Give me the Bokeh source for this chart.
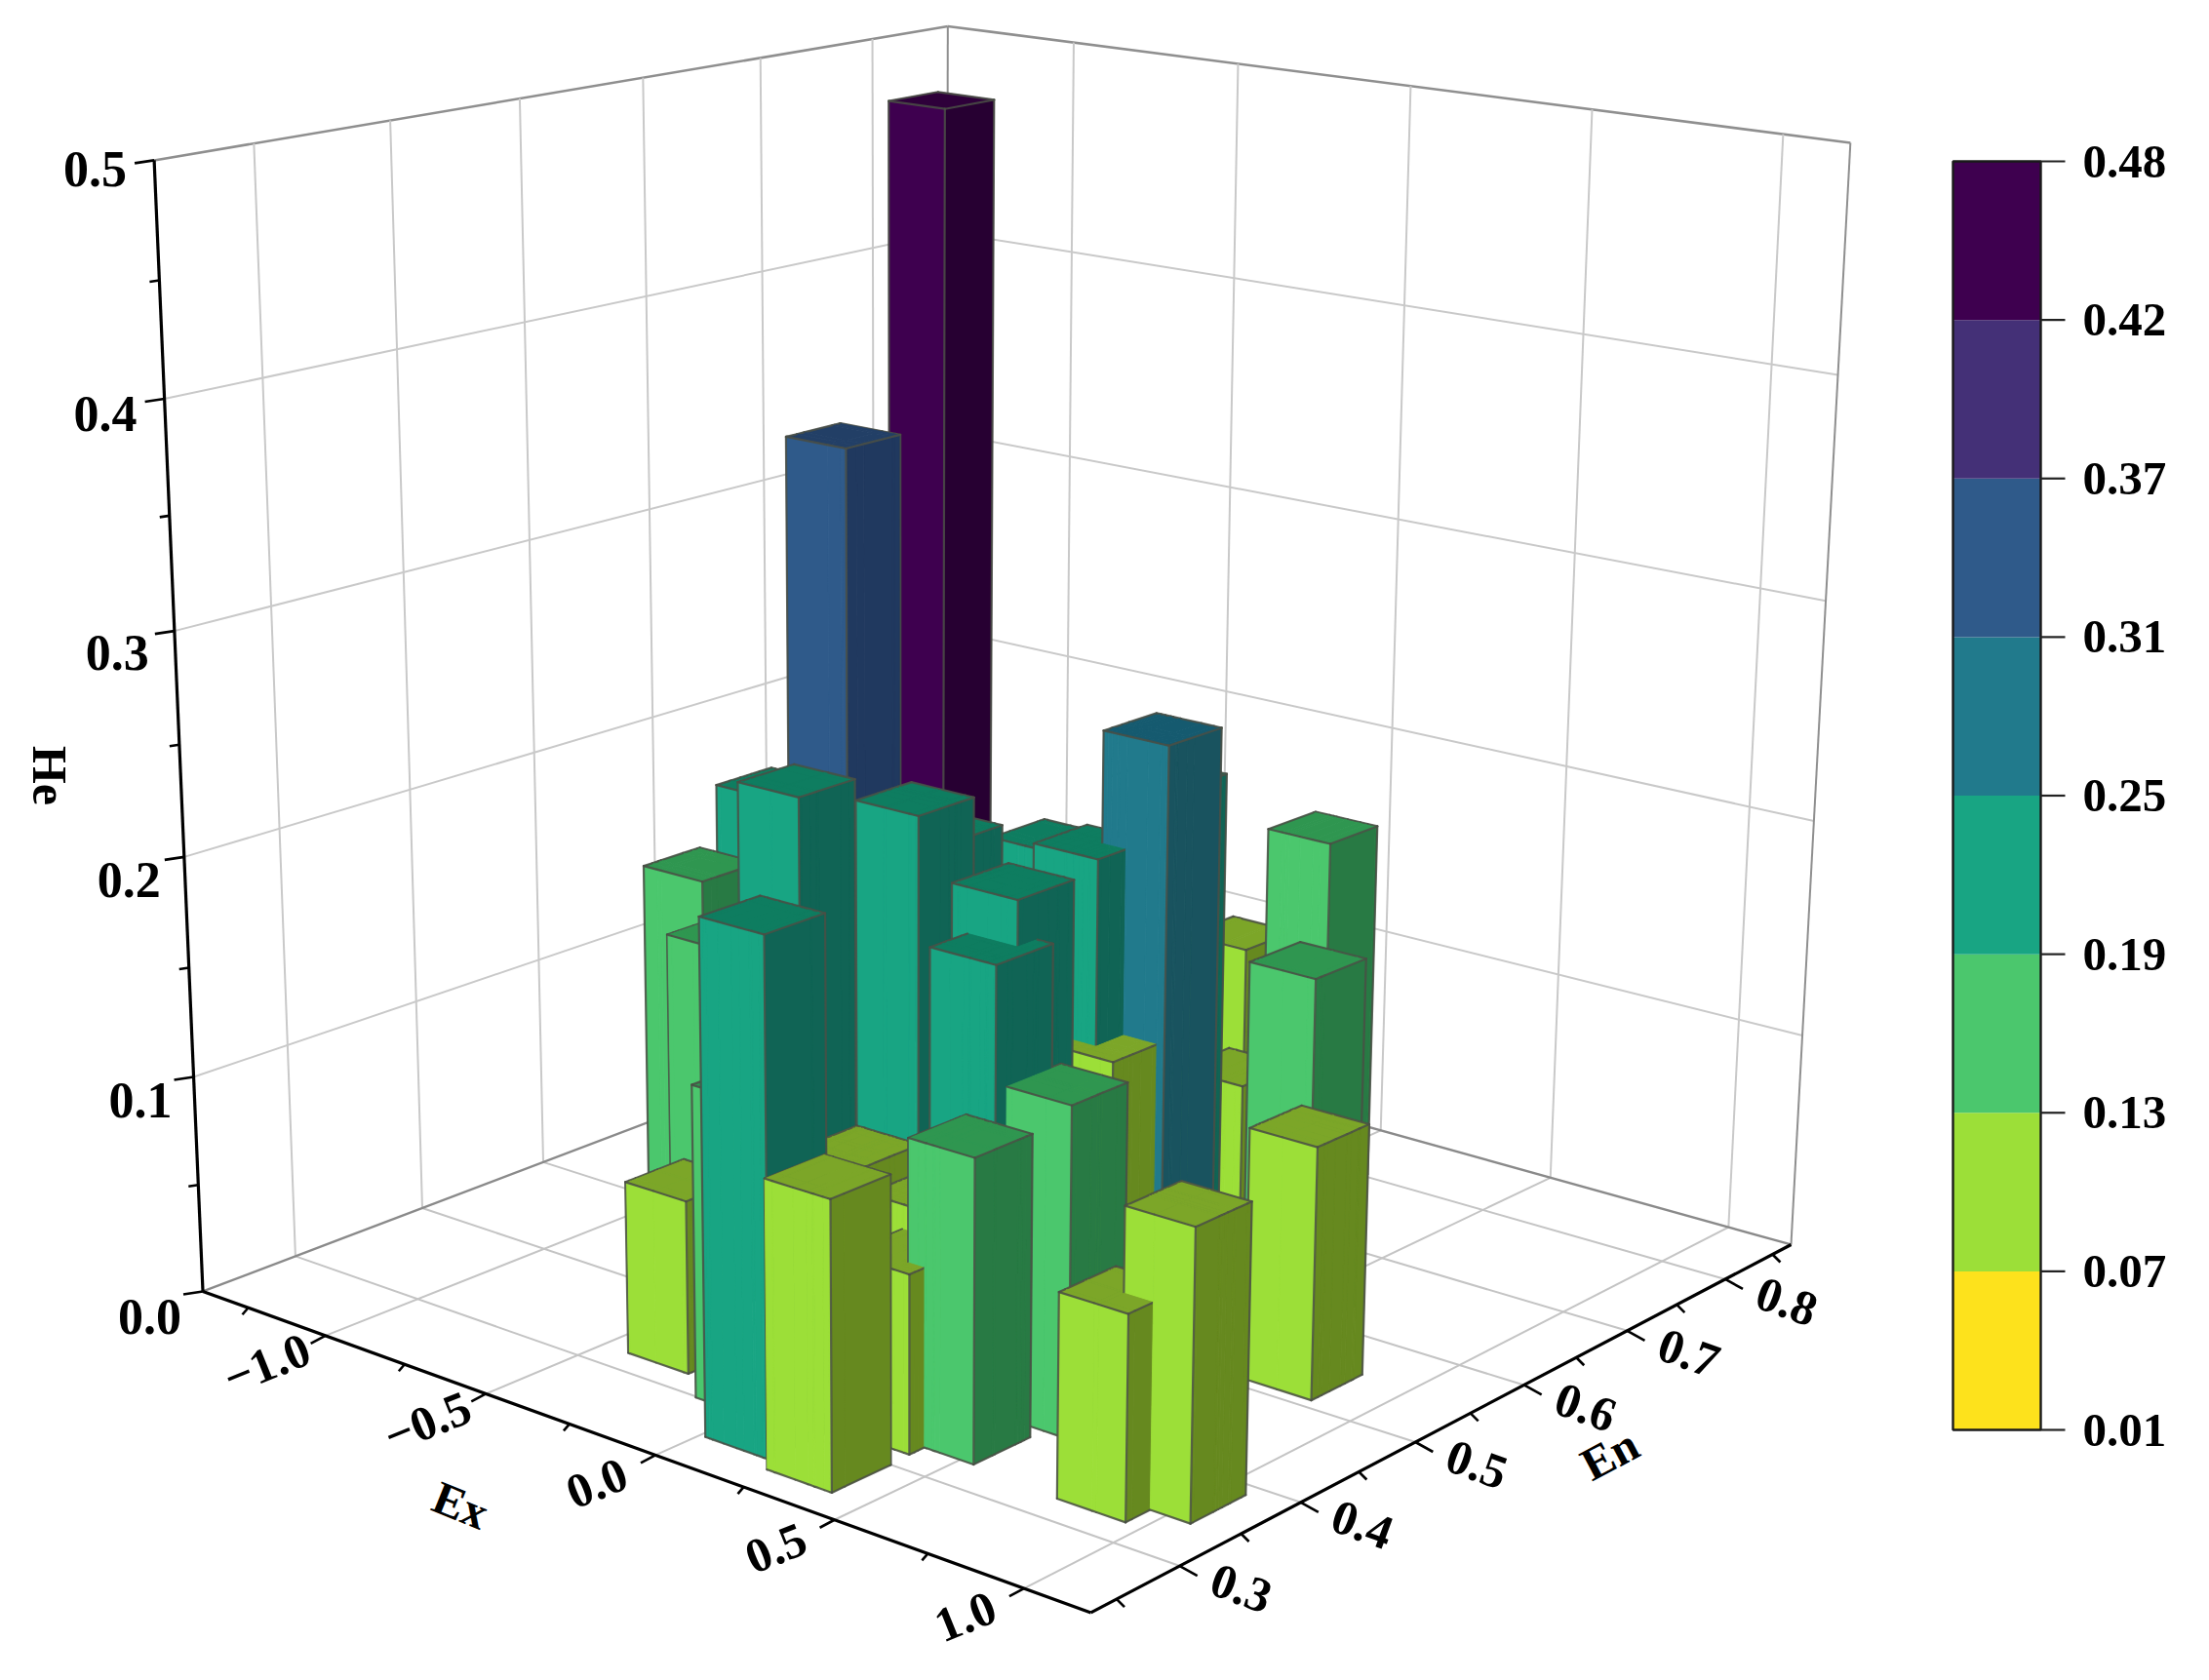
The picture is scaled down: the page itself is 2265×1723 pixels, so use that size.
import numpy as np
from bokeh.plotting import figure
from bokeh.models import Range1d, ColumnDataSource
from bokeh.core.properties import value
from bokeh.embed import file_html
from bokeh.resources import INLINE

# ---------- data ----------
bar_ex = [-1.293,-0.675,0.272,0.270,-0.687,-0.431,-0.142,-0.145,-0.150,-0.063,0.158,0.297,0.340,0.105,-0.729,-0.510,-0.054,0.064,0.535,0.515,0.447,0.317,0.868,0.972,0.780,-0.335,0.251,-0.168,0.318,0.015,0.216,0.312]
bar_en = [0.833,0.569,0.562,0.568,0.512,0.461,0.477,0.502,0.495,0.568,0.538,0.429,0.399,0.287,0.463,0.424,0.322,0.781,0.610,0.408,0.351,0.277,0.346,0.366,0.532,0.343,0.524,0.779,0.618,0.387,0.385,0.339]
bar_he = [0.470,0.360,0.2615,0.240,0.210,0.230,0.230,0.213,0.208,0.200,0.2115,0.220,0.200,0.225,0.180,0.165,0.139,0.170,0.160,0.146,0.133,0.126,0.089,0.126,0.113,0.078,0.128,0.110,0.100,0.100,0.090,0.079]
bar_dex = 0.18
bar_den = 0.046
level_edges = [0.01,0.07,0.13,0.19,0.25,0.31,0.37,0.42,0.48]
level_labels = ["0.01","0.07","0.13","0.19","0.25","0.31","0.37","0.42","0.48"]
front_col = ["#fde21c","#9cdf38","#4bc76d","#18a583","#217a8c","#2f5a8a","#443077","#3e004f"]
top_col   = ["#c9b416","#7ca628","#2f9650","#0e7d60","#155a6f","#223f66","#2f2154","#2e003a"]
side_col  = ["#a89612","#66891f","#287a44","#106455","#19535f","#20395f","#2a1e4d","#270032"]
ex_major = [-1.0,-0.5,0.0,0.5,1.0]
ex_major_labels = ["\u22121.0","\u22120.5","0.0","0.5","1.0"]
ex_minor = [-1.25,-0.75,-0.25,0.25,0.75]
en_major = [0.3,0.4,0.5,0.6,0.7,0.8]
en_major_labels = ["0.3","0.4","0.5","0.6","0.7","0.8"]
en_minor = [0.25,0.35,0.45,0.55,0.65,0.75,0.85]
he_major = [0.0,0.1,0.2,0.3,0.4,0.5]
he_major_labels = ["0.0","0.1","0.2","0.3","0.4","0.5"]
he_minor = [0.05,0.15,0.25,0.35,0.45]
xmin,xmax,ymin,ymax,zmax = -1.4,1.17,0.23,0.87,0.5

# ---------- perspective camera ----------
anchors=[((xmin,ymin,0),(210,1320)),((xmax,ymin,0),(1116,1655)),((xmax,ymax,0),(1837,1273)),((xmin,ymax,0),(971,1031)),
((xmin,ymin,.5),(160,162)),((xmin,ymax,.5),(973,27)),((xmax,ymax,.5),(1892,142)),((xmin,ymin,.4),(172,405)),
((xmin,ymin,.5),(160,162)),((xmax,ymax,.5),(1892,142)),((xmin,ymin,.5),(160,162)),((xmax,ymax,.5),(1892,142)),
((-1,ymin,0),(338,1369)),((-.5,ymin,0),(502,1430)),((0,ymin,0),(677,1493)),((.5,ymin,0),(866,1557)),((1,ymin,0),(1053,1632)),
((xmax,.3,0),(1204,1608)),((xmax,.4,0),(1329,1543)),((xmax,.5,0),(1448,1480)),((xmax,.6,0),(1559,1422)),((xmax,.7,0),(1665,1365)),((xmax,.8,0),(1767,1312)),
((xmin,.3,.5),(254,147)),((xmin,.4,.5),(395,123)),((xmin,.5,.5),(528,101)),((xmin,.6,.5),(655,82)),((xmin,.7,.5),(775,62)),((xmin,.8,.5),(891,43)),
((-1,ymax,.5),(1107,47)),((-.5,ymax,.5),(1276,68)),((0,ymax,.5),(1452,90)),((.5,ymax,.5),(1637,112)),((1,ymax,.5),(1831,136)),
((xmin,.3,0),(297,1287)),((xmin,.4,0),(430,1238)),((xmin,.5,0),(553,1190)),((xmin,.6,0),(666,1148)),((0,ymax,0),(1423,1157))]
A=[]
for (X,Y,Z),(u,v) in anchors:
    A.append([X,Y,Z,1,0,0,0,0,-u*X,-u*Y,-u*Z,-u]);A.append([0,0,0,0,X,Y,Z,1,-v*X,-v*Y,-v*Z,-v])
P=np.linalg.svd(np.array(A,float))[2][-1].reshape(3,4)
def pr(X,Y,Z):
    q=P@np.array([X,Y,Z,1.0]);return float(q[0]/q[2]),float(q[1]/q[2])

p=figure(width=2249,height=1707,x_range=Range1d(0,2249),y_range=Range1d(1707,0),
         toolbar_location=None,output_backend="svg",min_border=0)
p.axis.visible=False
p.grid.visible=False
p.outline_line_color=None

def seg_list():
    return {"xs":[],"ys":[],"c":[],"w":[]}
def seg(d,a,b,c,w):
    pa,pb=pr(*a),pr(*b)
    d["xs"].append([pa[0],pb[0]]);d["ys"].append([pa[1],pb[1]]);d["c"].append(c);d["w"].append(w)

# ---------- walls and floor grid ----------
g=seg_list()
GC="#c9c9c9"; EC="#8f8f8f"
for h in he_major[1:]:
    c=EC if h==zmax else GC
    w=2.6 if h==zmax else 2
    seg(g,(xmin,ymin,h),(xmin,ymax,h),c,w); seg(g,(xmin,ymax,h),(xmax,ymax,h),c,w)
for e in en_major:
    seg(g,(xmin,e,0),(xmin,e,zmax),GC,2); seg(g,(xmin,e,0),(xmax,e,0),"#c4c4c4",2)
for e in ex_major:
    seg(g,(e,ymax,0),(e,ymax,zmax),GC,2); seg(g,(e,ymin,0),(e,ymax,0),"#c4c4c4",2)
seg(g,(xmin,ymin,0),(xmin,ymax,0),"#8a8a8a",2.4)
seg(g,(xmin,ymax,0),(xmax,ymax,0),"#8a8a8a",2.4)
seg(g,(xmin,ymax,0),(xmin,ymax,zmax),EC,2.0)
seg(g,(xmax,ymax,0),(xmax,ymax,zmax),EC,2.0)
p.multi_line("xs","ys",line_color="c",line_width="w",source=ColumnDataSource(g))

# ---------- union of boxes, drawn back to front ----------
bars=[(ex-bar_dex/2,ex+bar_dex/2,en-bar_den/2,en+bar_den/2,he) for ex,en,he in zip(bar_ex,bar_en,bar_he)]
xs=sorted({b[0] for b in bars}|{b[1] for b in bars})
ys=sorted({b[2] for b in bars}|{b[3] for b in bars})
nx,ny=len(xs)-1,len(ys)-1
owner=-np.ones((nx+2,ny+2),int)
hgt=np.zeros((nx+2,ny+2))
for k,b in enumerate(bars):
    for i in range(nx):
        if xs[i]>=b[0]-1e-9 and xs[i+1]<=b[1]+1e-9:
            for j in range(ny):
                if ys[j]>=b[2]-1e-9 and ys[j+1]<=b[3]+1e-9 and b[4]>hgt[i+1,j+1]:
                    hgt[i+1,j+1]=b[4]; owner[i+1,j+1]=k
def level(h):
    return min(int(np.searchsorted(level_edges,h,side="right"))-1,7)
F={"xs":[],"ys":[],"fc":[],"fa":[],"lc":[],"la":[],"lw":[]}
def face(pts,c):
    q=[pr(*t) for t in pts]
    F["xs"].append([a[0] for a in q]);F["ys"].append([a[1] for a in q])
    F["fc"].append(c);F["fa"].append(1.0);F["lc"].append(c);F["la"].append(1.0);F["lw"].append(0.9)
ECOL="#4a4f45"
def edge(a,b):
    q=[pr(*a),pr(*b)]
    F["xs"].append([t[0] for t in q]);F["ys"].append([t[1] for t in q])
    F["fc"].append(ECOL);F["fa"].append(0.0);F["lc"].append(ECOL);F["la"].append(0.85);F["lw"].append(2.2)
E=1e-9
for i in range(1,nx+1):
    for j in range(ny,0,-1):
        k=owner[i,j]
        if k<0: continue
        h=hgt[i,j]; lv=level(bar_he[k]); x0,x1,y0,y1,_=bars[k]
        a,b,c,d=xs[i-1],xs[i],ys[j-1],ys[j]
        hr,hl,hf,hb=hgt[i+1,j],hgt[i-1,j],hgt[i,j-1],hgt[i,j+1]
        if hr<h: face([(b,c,hr),(b,d,hr),(b,d,h),(b,c,h)],side_col[lv])
        if hf<h: face([(a,c,hf),(b,c,hf),(b,c,h),(a,c,h)],front_col[lv])
        face([(a,c,h),(b,c,h),(b,d,h),(a,d,h)],top_col[lv])
        if abs(b-x1)<E and hr<h:
            edge((b,c,h),(b,d,h))
            if hr==0: edge((b,c,0),(b,d,0))
        if abs(a-x0)<E and hl<h: edge((a,c,h),(a,d,h))
        if abs(c-y0)<E and hf<h:
            edge((a,c,h),(b,c,h))
            if hf==0: edge((a,c,0),(b,c,0))
        if abs(d-y1)<E and hb<h: edge((a,d,h),(b,d,h))
        if abs(b-x1)<E and abs(c-y0)<E:
            lo=max(hr,hf,hgt[i+1,j-1])
            if lo<h: edge((b,c,lo),(b,c,h))
        if abs(a-x0)<E and abs(c-y0)<E:
            lo=max(hl,hf,hgt[i-1,j-1])
            if lo<h: edge((a,c,lo),(a,c,h))
        if abs(b-x1)<E and abs(d-y1)<E:
            lo=max(hr,hb,hgt[i+1,j+1])
            if lo<h: edge((b,d,lo),(b,d,h))
p.patches("xs","ys",fill_color="fc",fill_alpha="fa",line_color="lc",line_alpha="la",line_width="lw",
          line_join="round",source=ColumnDataSource(F))

# ---------- axes ----------
ax=seg_list()
K="#000000"
seg(ax,(xmin,ymin,0),(xmin,ymin,zmax),K,3.2)
seg(ax,(xmin,ymin,0),(xmax,ymin,0),K,3.2)
seg(ax,(xmax,ymin,0),(xmax,ymax,0),K,3.2)
p.multi_line("xs","ys",line_color="c",line_width="w",source=ColumnDataSource(ax))
tx={"xs":[],"ys":[]}
def tick(a,dx,dy):
    u,v=pr(*a); tx["xs"].append([u,u+dx]); tx["ys"].append([v,v+dy])
for h in he_major: tick((xmin,ymin,h),-20,3)
for h in he_minor: tick((xmin,ymin,h),-10,1.5)
for e in ex_major: tick((e,ymin,0),-15,8)
for e in ex_minor: tick((e,ymin,0),-6,7)
for e in en_major: tick((xmax,e,0),18,10)
for e in en_minor: tick((xmax,e,0),8,8)
p.multi_line("xs","ys",line_color=K,line_width=2.6,source=ColumnDataSource(tx))

FONT=value("Liberation Serif")
def labels(xv,yv,tv,size,angle=0.0,align="center",baseline="middle"):
    p.text(xv,yv,text=tv,text_font=FONT,text_font_style="bold",text_font_size=size,
           angle=angle,angle_units="deg",text_align=align,text_baseline=baseline,text_color="#000000")
q=[pr(xmin,ymin,h) for h in he_major]
he_dx=[-22,-22,-24,-26,-28,-28]
he_dy=[26,24,24,22,15,9]
labels([a[0]+d for a,d in zip(q,he_dx)],[a[1]+d for a,d in zip(q,he_dy)],he_major_labels,"52px",0,"right")
q=[pr(e,ymin,0) for e in ex_major]
labels([a[0]-60 for a in q],[a[1]+29 for a in q],ex_major_labels,"50px",22)
q=[pr(xmax,e,0) for e in en_major]
labels([a[0]+63 for a in q],[a[1]+23 for a in q],en_major_labels,"50px",-20)
labels([472],[1543],["Ex"],"48px",-22)
labels([1650],[1491],["En"],"48px",28)
labels([50],[795],["He"],"50px",-90)

# ---------- colour bar ----------
n=len(front_col)
cb_top,cb_bot,cb_l,cb_r=165.0,1466.0,2002.0,2092.0
step=(cb_bot-cb_top)/n
lev=np.arange(n+1)
pos=cb_bot-lev*step
p.quad(left=cb_l,right=cb_r,top=list(pos[1:]),bottom=list(pos[:-1]),fill_color=front_col,line_color=None)
p.quad(left=cb_l,right=cb_r,top=cb_top,bottom=cb_bot,fill_color=None,line_color="#1a1a1a",line_width=2.4)
p.segment(x0=cb_r,x1=cb_r+25,y0=list(pos),y1=list(pos),line_color="#222222",line_width=2.2)
labels([2135]*(n+1),list(pos),level_labels,"49px",0,"left")

open("out.html","w").write(file_html(p,INLINE))
